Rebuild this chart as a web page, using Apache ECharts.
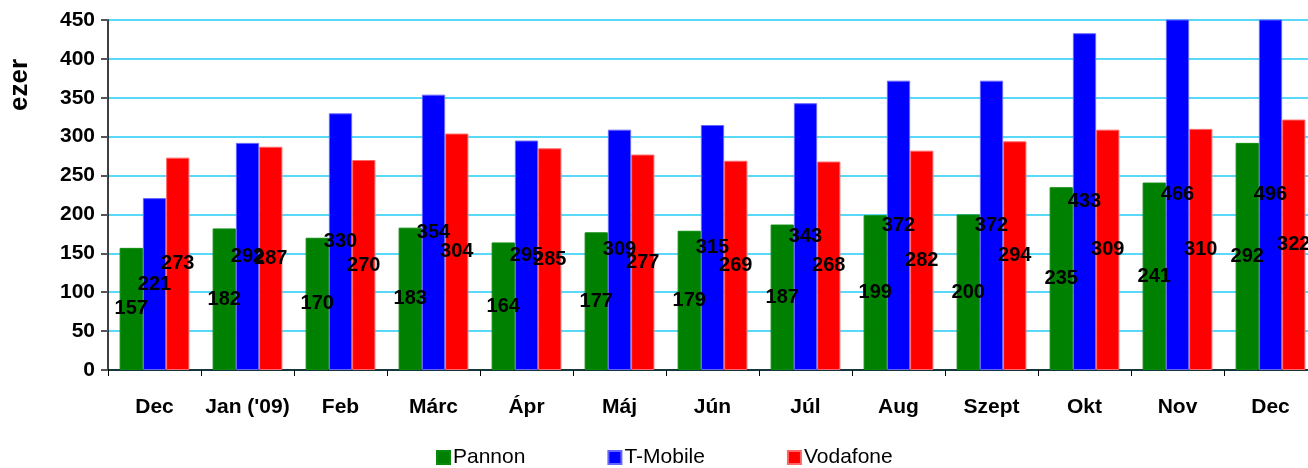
<!DOCTYPE html>
<html><head><meta charset="utf-8">
<script src="https://cdn.jsdelivr.net/npm/echarts@6/dist/echarts.min.js"></script>
<style>html,body{margin:0;padding:0;background:#fff}#c{width:1308px;height:468px}</style>
</head><body><div id="c"></div>
<script>
const categories = ["Dec","Jan ('09)","Feb","Márc","Ápr","Máj","Jún","Júl","Aug","Szept","Okt","Nov","Dec"];
const pannon = [157,182,170,183,164,177,179,187,199,200,235,241,292];
const tmobile = [221,292,330,354,295,309,315,343,372,372,433,466,496];
const vodafone = [273,287,270,304,285,277,269,268,282,294,309,310,322];
const yTicks = [0,50,100,150,200,250,300,350,400,450];

const chart = echarts.init(document.getElementById('c'));
const F = 'Liberation Sans, Arial, sans-serif';
const lbl = {show:true, position:'inside', color:'#000', fontFamily:F, fontWeight:'bold', fontSize:20};
function s(name, data, color, border){
  return {name, type:'bar', data, barGap:'0%', barCategoryGap:'25%', clip:true,
    itemStyle:{color, borderColor:border, borderWidth:1}, label:lbl, emphasis:{disabled:true}};
}
chart.setOption({
  animation:false,
  grid:{left:108, right:-9, top:20, bottom:98, containLabel:false, outerBoundsMode:'none'},
  legend:{bottom:-5, left:431, itemWidth:13, itemHeight:13, itemGap:82,
    textStyle:{fontFamily:F, fontSize:21, color:'#000', padding:[0,0,0,-2]},
    data:['Pannon','T-Mobile','Vodafone'], icon:'rect'},
  xAxis:{type:'category', data:categories,
    axisLine:{lineStyle:{color:'#000', width:1.5}},
    axisTick:{show:true, interval:0, length:6, lineStyle:{color:'#000'}},
    axisLabel:{interval:0, color:'#000', fontFamily:F, fontWeight:'bold', fontSize:21, margin:27}},
  yAxis:{type:'value', min:yTicks[0], max:yTicks[yTicks.length-1], interval:50,
    name:'ezer', nameLocation:'middle', nameRotate:90, nameGap:75,
    nameTextStyle:{color:'#000', fontFamily:F, fontWeight:'bold', fontSize:26, padding:[0,0,0,220]},
    axisLine:{show:true, lineStyle:{color:'#000', width:1.5}},
    axisTick:{show:true, length:7, lineStyle:{color:'#555', width:2}},
    axisLabel:{color:'#000', fontFamily:F, fontWeight:'bold', fontSize:21, margin:13},
    splitLine:{lineStyle:{color:'#22ccf5', width:1.5}}},
  series:[
    s('Pannon', pannon, '#008000', '#0a8a0a'),
    s('T-Mobile', tmobile, '#0000ff', '#6666ff'),
    s('Vodafone', vodafone, '#ff0000', '#ff6666')
  ]
});
</script></body></html>
